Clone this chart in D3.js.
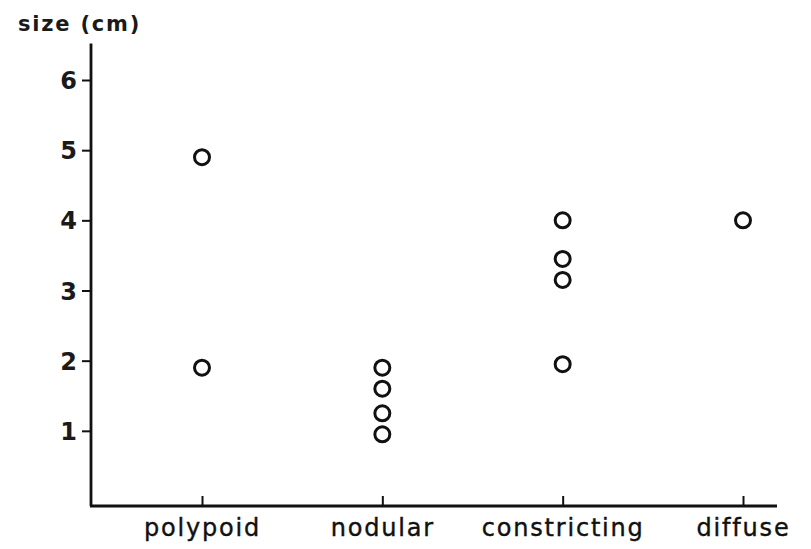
<!DOCTYPE html>
<html lang="en">
  <head>
    <meta charset="utf-8">
    <title>Size by type</title>
    <script type="text/javascript" src="https://cdn.jsdelivr.net/npm/d3@7/dist/d3.min.js"></script>
    <style>
      body { margin: 0; background: #fff; }
    </style>
  </head>
  <body>
    <script type="text/javascript">

    var w = 811;
    var h = 549;

    // data
    var categories = ["polypoid", "nodular", "constricting", "diffuse"];
    var polypoid = [4.9, 1.9];
    var nodular = [1.9, 1.6, 1.25, 0.95];
    var constricting = [4.0, 3.45, 3.15, 1.95];
    var diffuse = [4.0];
    var yTicks = [1, 2, 3, 4, 5, 6];

    var series = [polypoid, nodular, constricting, diffuse];
    var points = [];
    categories.forEach(function(c, i) {
      series[i].forEach(function(v) {
        points.push({ cat: c, value: v });
      });
    });

    var axisX = 91;
    var axisY = 506;

    var xScale = d3.scalePoint()
                   .domain(categories)
                   .range([202, 743]);

    var yScale = d3.scaleLinear()
                   .domain([0, 6])
                   .range([501, 80]);

    var mySvg = d3.select("body")
                  .append("svg")
                  .attr("width", w)
                  .attr("height", h);

    // y axis
    var yAxis = d3.axisLeft()
                  .scale(yScale)
                  .tickValues(yTicks)
                  .tickSizeInner(9)
                  .tickSizeOuter(0)
                  .tickPadding(5)
                  .tickFormat(d3.format("d"));

    var gy = mySvg.append("g")
         .attr("transform", "translate(" + axisX + ",0)")
         .call(yAxis);
    gy.select(".domain").remove();
    gy.selectAll(".tick line")
      .attr("stroke", "#111")
      .attr("stroke-width", 2);
    gy.selectAll(".tick text")
      .attr("fill", "#1a1a1a")
      .attr("font-family", "DejaVu Sans")
      .attr("font-weight", "bold")
      .attr("font-size", "24px")
      .attr("dy", "0.36em");

    mySvg.append("line")
         .attr("x1", axisX).attr("x2", axisX)
         .attr("y1", yScale(6.52)).attr("y2", axisY)
         .attr("stroke", "#111")
         .attr("stroke-width", 2.8);

    // x axis
    var xAxis = d3.axisBottom()
                  .scale(xScale)
                  .tickSizeInner(-10)
                  .tickSizeOuter(0);

    var gx = mySvg.append("g")
         .attr("transform", "translate(0," + axisY + ")")
         .call(xAxis);
    gx.select(".domain").remove();
    gx.selectAll(".tick line")
      .attr("stroke", "#111")
      .attr("stroke-width", 2);
    gx.selectAll(".tick text")
      .attr("fill", "#111")
      .attr("font-family", "DejaVu Sans")
      .attr("font-size", "24px")
      .attr("letter-spacing", "1.8px")
      .attr("stroke", "#111")
      .attr("stroke-width", 0.4)
      .attr("y", 30)
      .attr("dy", 0);

    mySvg.append("line")
         .attr("x1", axisX - 1).attr("x2", 777)
         .attr("y1", axisY).attr("y2", axisY)
         .attr("stroke", "#111")
         .attr("stroke-width", 2.8);

    // axis title
    mySvg.append("text")
         .attr("x", 18)
         .attr("y", 31)
         .attr("fill", "#1a1a1a")
         .attr("font-family", "DejaVu Sans")
         .attr("font-weight", "bold")
         .attr("font-size", "21px")
         .attr("letter-spacing", "1.8px")
         .text("size (cm)");

    // points
    mySvg.selectAll("circle")
         .data(points)
         .enter()
         .append("circle")
         .attr("cx", function(d) { return xScale(d.cat); })
         .attr("cy", function(d) { return yScale(d.value); })
         .attr("r", 7.5)
         .attr("fill", "none")
         .attr("stroke", "#111")
         .attr("stroke-width", 3);

    </script>
  </body>
</html>
